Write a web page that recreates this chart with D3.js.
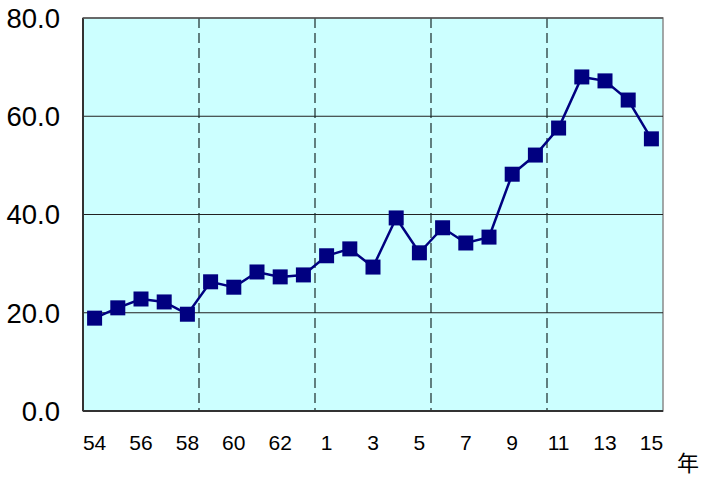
<!DOCTYPE html>
<html>
<head>
<meta charset="utf-8">
<script src="https://cdn.jsdelivr.net/npm/d3@7"></script>
<style>
  body { margin: 0; background: #fff; }
</style>
</head>
<body>
<div id="container"></div>
<script>
const years = ['54','55','56','57','58','59','60','61','62','63',
  '1','2','3','4','5','6','7','8','9','10','11','12','13','14','15'];
const values = [18.9, 21.0, 22.8, 22.2, 19.7, 26.3, 25.2, 28.3, 27.3, 27.7,
  31.6, 33.0, 29.3, 39.3, 32.2, 37.3, 34.2, 35.4, 48.2, 52.1, 57.6, 68.0, 67.2, 63.3, 55.4];
const shownLabels = ['54','56','58','60','62','1','3','5','7','9','11','13','15'];
const yTicks = [0, 20, 40, 60, 80];
const dividers = ['59', '1', '6', '11'];

const WIDTH = 702, HEIGHT = 481;
const plotLeft = 83, plotRight = 663, plotTop = 18, plotBottom = 411;

let svg = d3.select('#container').append('svg').attr('width', WIDTH).attr('height', HEIGHT)
  .attr('font-family', '"Liberation Sans", Arial, sans-serif');

let x = d3.scaleBand().domain(years).range([plotLeft, plotRight]);
let y = d3.scaleLinear().domain([0, 80]).range([plotBottom, plotTop]);

svg.append('rect').attr('x', plotLeft).attr('y', plotTop)
  .attr('width', plotRight - plotLeft).attr('height', plotBottom - plotTop)
  .attr('fill', '#ccffff').attr('stroke', '#8a8a8a').attr('stroke-width', 1.5);

// horizontal grid
svg.append('g').selectAll('line').data(yTicks.filter((d) => d > 0 && d < 80)).join('line')
  .attr('x1', plotLeft).attr('x2', plotRight).attr('y1', (d) => y(d)).attr('y2', (d) => y(d))
  .attr('stroke', '#222').attr('stroke-width', 1);

// vertical dashed dividers
svg.append('g').selectAll('line').data(dividers).join('line')
  .attr('x1', (d) => x(d)).attr('x2', (d) => x(d)).attr('y1', plotTop).attr('y2', plotBottom)
  .attr('stroke', '#1a2a2a').attr('stroke-width', 1.2).attr('stroke-dasharray', '10,5');

// axis lines
svg.append('line').attr('x1', plotLeft).attr('x2', plotLeft).attr('y1', plotTop).attr('y2', plotBottom)
  .attr('stroke', '#333').attr('stroke-width', 2);
svg.append('line').attr('x1', plotLeft).attr('x2', plotRight).attr('y1', plotBottom).attr('y2', plotBottom)
  .attr('stroke', '#333').attr('stroke-width', 2);
svg.append('line').attr('x1', plotLeft).attr('x2', plotRight).attr('y1', plotTop).attr('y2', plotTop)
  .attr('stroke', '#555').attr('stroke-width', 1.5);

// y labels
svg.append('g').selectAll('text').data(yTicks).join('text')
  .attr('x', 60).attr('y', (d) => y(d)).attr('dy', '0.36em')
  .attr('text-anchor', 'end').attr('font-size', 27.5).attr('fill', '#000')
  .text((d) => d.toFixed(1));

// x labels
svg.append('g').selectAll('text').data(shownLabels).join('text')
  .attr('x', (d) => x(d) + x.bandwidth() / 2).attr('y', 450)
  .attr('text-anchor', 'middle').attr('font-size', 21).attr('fill', '#000')
  .text((d) => d);

svg.append('text').attr('x', 688).attr('y', 471).attr('text-anchor', 'middle')
  .attr('font-size', 22).attr('font-family', '"Noto Sans CJK JP", sans-serif').text('年');

let cx = (d, i) => x(years[i]) + x.bandwidth() / 2;

svg.append('path').datum(values)
  .attr('d', d3.line().x((d, i) => cx(d, i)).y((d) => y(d)))
  .attr('fill', 'none').attr('stroke', '#000080').attr('stroke-width', 2.5);

const S = 15;
svg.append('g').selectAll('rect').data(values).join('rect')
  .attr('x', (d, i) => cx(d, i) - S / 2).attr('y', (d) => y(d) - S / 2)
  .attr('width', S).attr('height', S).attr('fill', '#000080');
</script>
</body>
</html>
